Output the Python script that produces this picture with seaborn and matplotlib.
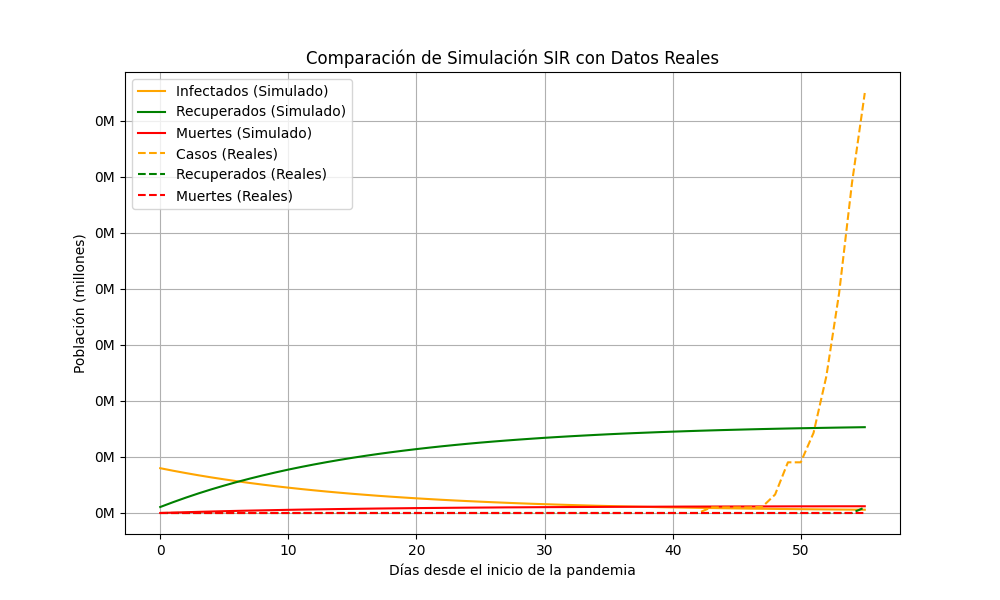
import matplotlib
matplotlib.use("Agg")
import matplotlib.pyplot as plt
from matplotlib.ticker import FuncFormatter, MultipleLocator
import seaborn as sns

dias = list(range(56))

# simulacion SIR (personas)
infectados_sim = [
    1600, 1510, 1426, 1346, 1271, 1201, 1134, 1072, 1013, 957,
    905, 856, 810, 766, 725, 686, 650, 615, 583, 553,
    524, 497, 471, 447, 425, 404, 384, 365, 347, 330,
    315, 300, 286, 273, 260, 249, 238, 227, 218, 208,
    200, 192, 184, 177, 170, 164, 157, 152, 146, 141,
    137, 132, 128, 124, 120, 117,
]
recuperados_sim = [
    214, 386, 549, 702, 846, 981, 1109, 1229, 1342, 1449,
    1550, 1644, 1733, 1817, 1896, 1971, 2041, 2107, 2169, 2227,
    2282, 2334, 2383, 2429, 2473, 2514, 2552, 2588, 2622, 2654,
    2685, 2713, 2740, 2765, 2789, 2812, 2833, 2853, 2871, 2889,
    2905, 2921, 2936, 2950, 2963, 2975, 2987, 2998, 3008, 3018,
    3027, 3035, 3043, 3051, 3058, 3065,
]
muertes_sim = [
    0, 15, 28, 41, 53, 65, 76, 86, 95, 104,
    113, 121, 128, 135, 142, 148, 154, 160, 165, 170,
    175, 179, 183, 187, 191, 194, 197, 201, 203, 206,
    209, 211, 213, 215, 217, 219, 221, 223, 224, 226,
    227, 229, 230, 231, 232, 233, 234, 235, 236, 237,
    238, 238, 239, 240, 240, 241,
]

# datos reales
casos_reales = [0] * 43 + [200, 200, 200, 200, 220, 660, 1810, 1810, 2860, 4880, 7860, 11780, 15000]
recuperados_reales = [0] * 55 + [200]
muertes_reales = [0] * 56

fig, ax = plt.subplots(figsize=(10, 6))

sns.lineplot(x=dias, y=infectados_sim, color="orange", label="Infectados (Simulado)", ax=ax)
sns.lineplot(x=dias, y=recuperados_sim, color="green", label="Recuperados (Simulado)", ax=ax)
sns.lineplot(x=dias, y=muertes_sim, color="red", label="Muertes (Simulado)", ax=ax)
sns.lineplot(x=dias, y=casos_reales, color="orange", linestyle="--", label="Casos (Reales)", ax=ax)
sns.lineplot(x=dias, y=recuperados_reales, color="green", linestyle="--", label="Recuperados (Reales)", ax=ax)
sns.lineplot(x=dias, y=muertes_reales, color="red", linestyle="--", label="Muertes (Reales)", ax=ax)

ax.yaxis.set_major_locator(MultipleLocator(2000))
ax.yaxis.set_major_formatter(FuncFormatter(lambda x, _: f"{x / 1e6:.0f}M"))
ax.set_title("Comparación de Simulación SIR con Datos Reales")
ax.set_xlabel("Días desde el inicio de la pandemia")
ax.set_ylabel("Población (millones)")
ax.legend(loc="upper left")
ax.grid(True)

fig.savefig("out.png", dpi=100)
plt.close(fig)
